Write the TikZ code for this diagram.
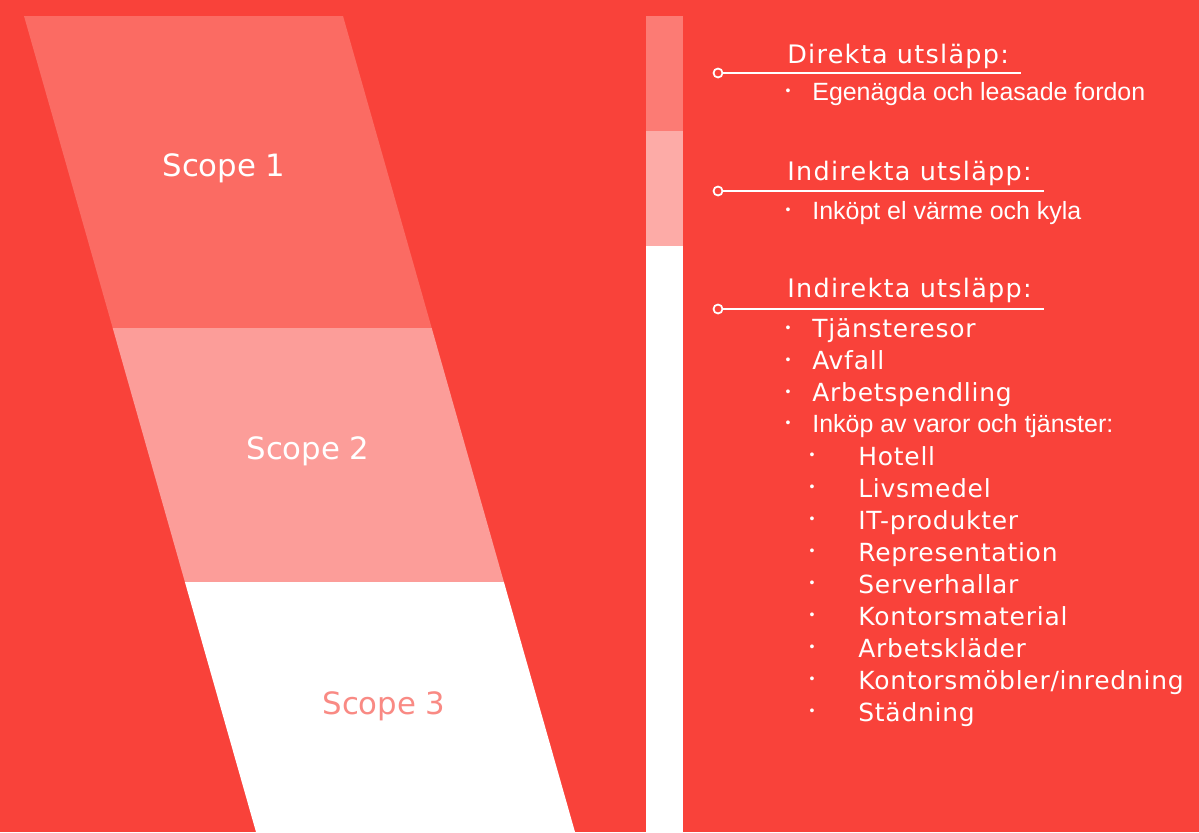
\documentclass[tikz,border=0pt]{standalone}
\usepackage{fontspec}
\setmainfont{DejaVu Sans}
\newfontfamily\narrowfont{Liberation Sans}
\newfontfamily\headfont[LetterSpace=5]{DejaVu Sans}
\newfontfamily\itemfont[LetterSpace=3]{DejaVu Sans}
\definecolor{bgred}{HTML}{F9423A}
\definecolor{scopeone}{HTML}{FB6B63}
\definecolor{scopetwo}{HTML}{FC9D99}
\definecolor{barone}{HTML}{FC7B74}
\definecolor{bartwo}{HTML}{FDABA7}
\definecolor{scopetxt}{HTML}{F98A84}

\begin{document}
\begin{tikzpicture}[x=0.02cm,y=-0.02cm,
		head/.style={anchor=base west,inner sep=0pt,text=white,font=\headfont\fontsize{14.5}{17}\selectfont},
		item/.style={anchor=base west,inner sep=0pt,text=white,font=\itemfont\fontsize{14.2}{17}\selectfont},
		narrowitem/.style={anchor=base west,inner sep=0pt,text=white,font=\narrowfont\fontsize{14.2}{17}\selectfont},
		dot/.style={inner sep=0pt,text=white,font=\narrowfont\fontsize{8}{9}\selectfont},
		ring/.style={circle,draw=white,fill=bgred,line width=1pt,minimum size=0.18cm,inner sep=0pt},
		uline/.style={draw=white,line width=1.2pt},
		scopelabel/.style={anchor=base,inner sep=0pt,font=\fontsize{17.5}{20}\selectfont}]
	\fill[bgred] (0,0) rectangle (1199,832);
	\fill[scopeone] (24,16) -- (343,16) -- (431.7,328) -- (112.7,328) -- cycle;
	\fill[scopetwo] (112.7,328) -- (431.7,328) -- (503.9,582) -- (184.9,582) -- cycle;
	\fill[white] (184.9,582) -- (503.9,582) -- (575,832) -- (256,832) -- cycle;
	\node[scopelabel,text=white] (s1) at (224,176) {Scope 1};
	\node[scopelabel,text=white] (s2) at (308,459) {Scope 2};
	\node[scopelabel,text=scopetxt] (s3) at (384,714) {Scope 3};
	\fill[barone] (646,16) rectangle (683,131);
	\fill[bartwo] (646,131) rectangle (683,246);
	\fill[white] (646,246) rectangle (683,832);
	\node[head] (h1) at (787,63) {Direkta utsläpp:};
	\node[head] (h2) at (787,180) {Indirekta utsläpp:};
	\node[head] (h3) at (787,297) {Indirekta utsläpp:};
	\node[ring] (r1) at (718,73) {};
	\node[ring] (r2) at (718,191) {};
	\node[ring] (r3) at (718,309) {};
	\coordinate (e1) at (1021,73);
	\coordinate (e2) at (1044,191);
	\coordinate (e3) at (1044,309);
	\draw[uline] (r1.east) -- (e1);
	\draw[uline] (r2.east) -- (e2);
	\draw[uline] (r3.east) -- (e3);
	\node[dot] at (788,92) {•};
	\node[narrowitem] (i1) at (812,100) {Egenägda och leasade fordon};
	\node[dot] at (788,211) {•};
	\node[narrowitem] (i2) at (812,219) {Inköpt el värme och kyla};
	\foreach \t [count=\i] in {Tjänsteresor,Avfall,Arbetspendling}{
		\node[dot] at (788,329+32*\i-32) {•};
		\node[item] (a\i) at (812,337+32*\i-32) {\t};
	}
	\node[dot] at (788,424) {•};
	\node[narrowitem] (a4) at (812,432) {Inköp av varor och tjänster:};
	\foreach \t [count=\i] in {Hotell,Livsmedel,IT-produkter,Representation,Serverhallar,Kontorsmaterial,Arbetskläder,Kontorsmöbler/inredning,Städning}{
		\node[dot] at (812,456+32*\i-32) {•};
		\node[item] (b\i) at (858,465+32*\i-32) {\t};
	}
\end{tikzpicture}
\end{document}
